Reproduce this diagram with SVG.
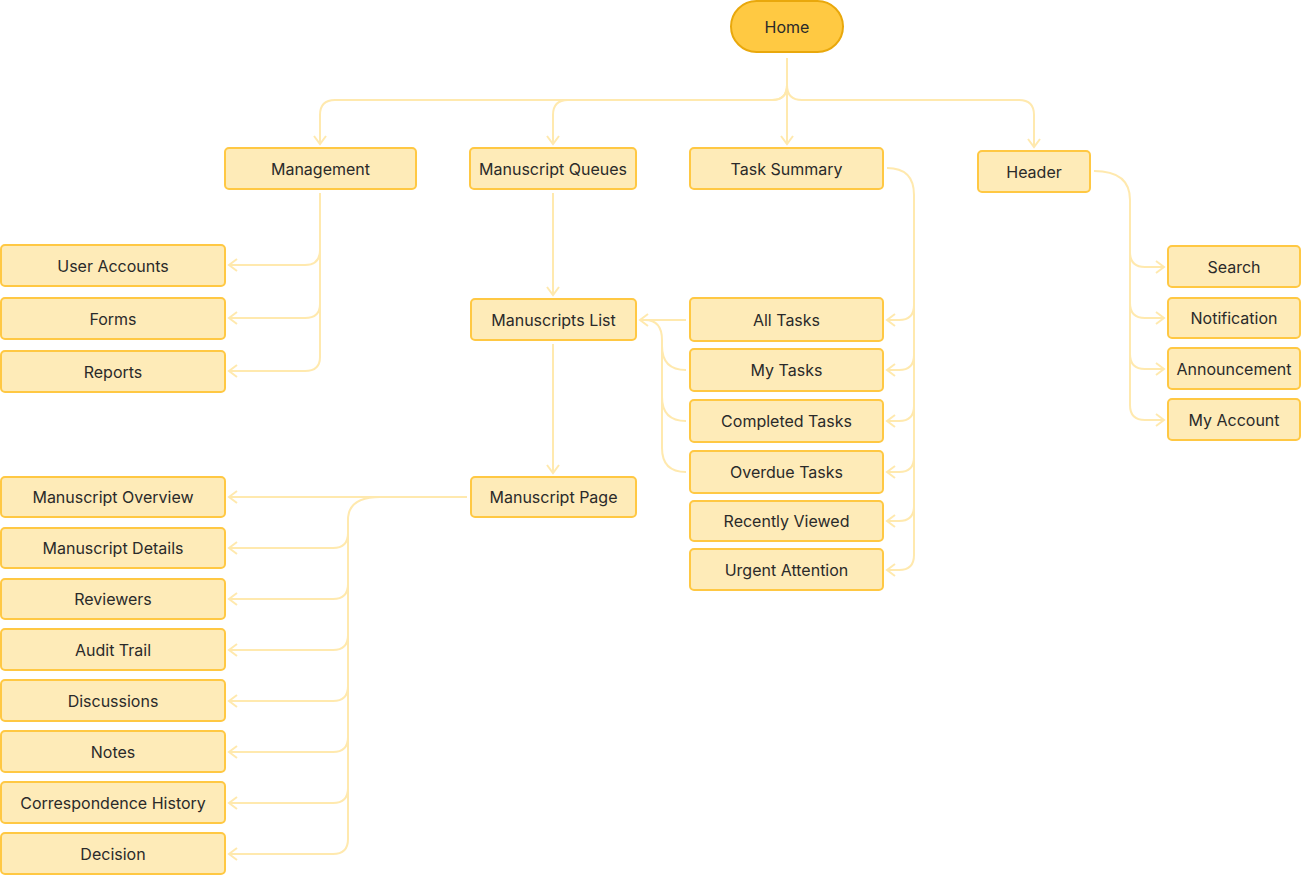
<svg xmlns="http://www.w3.org/2000/svg" width="1301" height="875" viewBox="0 0 1301 875">
<style>
.n rect{fill:#FEEBB8;stroke:#FFC843;stroke-width:2}
.n text{font-family:Inter,"Liberation Sans",sans-serif;font-size:16px;fill:#2a2a2a;text-anchor:middle;dominant-baseline:central}
.c path{fill:none;stroke:#FFE9AE;stroke-width:2;marker-end:url(#a)}
.c path.nm{marker-end:none}
</style>
<defs>
<marker id="a" viewBox="0 0 12 14" refX="10" refY="7" markerWidth="12" markerHeight="14" markerUnits="userSpaceOnUse" orient="auto">
<path d="M2,1 L10,7 L2,13" fill="none" stroke="#FFE9AE" stroke-width="2"/>
</marker>
</defs>
<rect width="1301" height="875" fill="#fff"/>
<g class="c">
<path d="M787,58 V85 Q787,100 772,100 H335 Q320,100 320,115 V144"/>
<path d="M787,85 Q787,100 772,100 H568 Q553,100 553,115 V144"/>
<path d="M787,58 V144"/>
<path d="M787,85 Q787,100 802,100 H1019 Q1034,100 1034,115 V147"/>
<path d="M320,193 V250 Q320,265 305,265 H229"/>
<path d="M320,250 V304 Q320,318 305,318 H229"/>
<path d="M320,300 V357 Q320,371 305,371 H229"/>
<path d="M553,193 V295"/>
<path d="M553,344 V473"/>
<path d="M887,168 Q914,168 914,195 V305 Q914,320 899,320 H887"/>
<path d="M914,300 V355 Q914,370 899,370 H887"/>
<path d="M914,350 V406 Q914,421 899,421 H887"/>
<path d="M914,400 V457 Q914,472 899,472 H887"/>
<path d="M914,450 V506 Q914,521 899,521 H887"/>
<path d="M914,500 V555 Q914,570 899,570 H887"/>
<path d="M686,320 H640"/>
<path class="nm" d="M686,370 Q662,370 662,346 V340 Q662,320 645,320"/>
<path class="nm" d="M686,421 Q662,421 662,397 V340"/>
<path class="nm" d="M686,472 Q662,472 662,448 V390"/>
<path d="M1094,171 Q1130,171 1130,200 V252 Q1130,267 1145,267 H1164"/>
<path d="M1130,250 V303 Q1130,318 1145,318 H1164"/>
<path d="M1130,300 V354 Q1130,369 1145,369 H1164"/>
<path d="M1130,350 V405 Q1130,420 1145,420 H1164"/>
<path d="M467,497 H229"/>
<path d="M380,497 Q348,497 348,520 V533 Q348,548 333,548 H229"/>
<path d="M348,530 V584 Q348,599 333,599 H229"/>
<path d="M348,580 V635 Q348,650 333,650 H229"/>
<path d="M348,630 V686 Q348,701 333,701 H229"/>
<path d="M348,680 V737 Q348,752 333,752 H229"/>
<path d="M348,730 V788 Q348,803 333,803 H229"/>
<path d="M348,780 V839 Q348,854 333,854 H229"/>
</g>
<g id="home" class="n"><rect x="731" y="1" width="112" height="51" rx="25.5" style="fill:#FFC942;stroke:#E9A80C"/><text x="787" y="26.5">Home</text></g>
<g id="management" class="n"><rect x="225" y="148" width="191" height="41" rx="4"/><text x="320.5" y="168.5">Management</text></g>
<g id="queues" class="n"><rect x="470" y="148" width="166" height="41" rx="4"/><text x="553" y="168.5">Manuscript Queues</text></g>
<g id="tasksummary" class="n"><rect x="690" y="148" width="193" height="41" rx="4"/><text x="786.5" y="168.5">Task Summary</text></g>
<g id="header" class="n"><rect x="978" y="151" width="112" height="41" rx="4"/><text x="1034" y="171.5">Header</text></g>
<g id="useraccounts" class="n"><rect x="1" y="245" width="224" height="41" rx="4"/><text x="113" y="265.5">User Accounts</text></g>
<g id="forms" class="n"><rect x="1" y="298" width="224" height="41" rx="4"/><text x="113" y="318.5">Forms</text></g>
<g id="reports" class="n"><rect x="1" y="351" width="224" height="41" rx="4"/><text x="113" y="371.5">Reports</text></g>
<g id="mslist" class="n"><rect x="471" y="299" width="165" height="41" rx="4"/><text x="553.5" y="319.5">Manuscripts List</text></g>
<g id="alltasks" class="n"><rect x="690" y="298" width="193" height="43" rx="4"/><text x="786.5" y="319.5">All Tasks</text></g>
<g id="mytasks" class="n"><rect x="690" y="349" width="193" height="42" rx="4"/><text x="786.5" y="370">My Tasks</text></g>
<g id="completed" class="n"><rect x="690" y="400" width="193" height="42" rx="4"/><text x="786.5" y="421">Completed Tasks</text></g>
<g id="overdue" class="n"><rect x="690" y="451" width="193" height="42" rx="4"/><text x="786.5" y="472">Overdue Tasks</text></g>
<g id="recent" class="n"><rect x="690" y="501" width="193" height="40" rx="4"/><text x="786.5" y="521">Recently Viewed</text></g>
<g id="urgent" class="n"><rect x="690" y="549" width="193" height="41" rx="4"/><text x="786.5" y="569.5">Urgent Attention</text></g>
<g id="search" class="n"><rect x="1168" y="246" width="132" height="41" rx="4"/><text x="1234" y="266.5">Search</text></g>
<g id="notification" class="n"><rect x="1168" y="298" width="132" height="40" rx="4"/><text x="1234" y="318">Notification</text></g>
<g id="announcement" class="n"><rect x="1168" y="348" width="132" height="41" rx="4"/><text x="1234" y="368.5">Announcement</text></g>
<g id="myaccount" class="n"><rect x="1168" y="399" width="132" height="41" rx="4"/><text x="1234" y="419.5">My Account</text></g>
<g id="mspage" class="n"><rect x="471" y="477" width="165" height="40" rx="4"/><text x="553.5" y="497">Manuscript Page</text></g>
<g id="overview" class="n"><rect x="1" y="477" width="224" height="40" rx="4"/><text x="113" y="497">Manuscript Overview</text></g>
<g id="details" class="n"><rect x="1" y="528" width="224" height="40" rx="4"/><text x="113" y="548">Manuscript Details</text></g>
<g id="reviewers" class="n"><rect x="1" y="579" width="224" height="40" rx="4"/><text x="113" y="599">Reviewers</text></g>
<g id="audit" class="n"><rect x="1" y="629" width="224" height="41" rx="4"/><text x="113" y="649.5">Audit Trail</text></g>
<g id="discussions" class="n"><rect x="1" y="680" width="224" height="41" rx="4"/><text x="113" y="700.5">Discussions</text></g>
<g id="notes" class="n"><rect x="1" y="731" width="224" height="41" rx="4"/><text x="113" y="751.5">Notes</text></g>
<g id="correspondence" class="n"><rect x="1" y="782" width="224" height="41" rx="4"/><text x="113" y="802.5">Correspondence History</text></g>
<g id="decision" class="n"><rect x="1" y="833" width="224" height="41" rx="4"/><text x="113" y="853.5">Decision</text></g>
</svg>
